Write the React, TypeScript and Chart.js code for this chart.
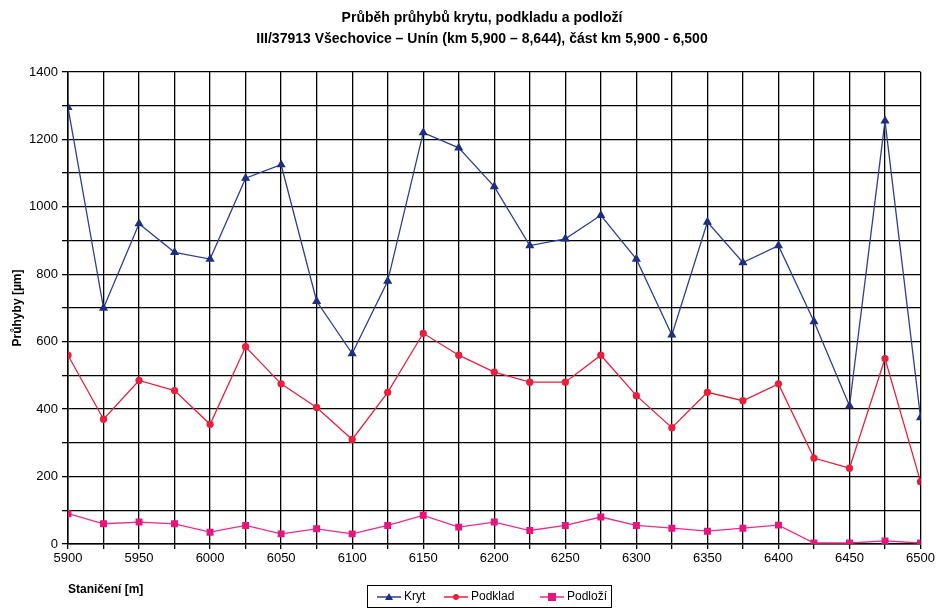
import React, { useEffect, useRef } from "react";
import { Chart, registerables } from "chart.js";

Chart.register(...registerables);

const stations = [5900, 5925, 5950, 5975, 6000, 6025, 6050, 6075, 6100, 6125, 6150, 6175, 6200, 6225, 6250, 6275, 6300, 6325, 6350, 6375, 6400, 6425, 6450, 6475, 6500];
const kryt = [1295, 700, 950, 865, 845, 1085, 1125, 720, 565, 780, 1220, 1175, 1060, 885, 905, 975, 845, 620, 955, 835, 885, 660, 410, 1255, 375];
const podklad = [560, 370, 485, 455, 355, 585, 475, 405, 310, 450, 625, 560, 510, 480, 480, 560, 440, 345, 450, 425, 475, 255, 225, 550, 185];
const podlozi = [90, 60, 65, 60, 35, 55, 30, 45, 30, 55, 85, 50, 65, 40, 55, 80, 55, 47, 38, 47, 56, 3, 3, 9, 3];

const seriesNames = ["Kryt", "Podklad", "Podloží"];
const titleLines = [
  "Průběh průhybů krytu, podkladu a podloží",
  "III/37913 Všechovice – Unín (km 5,900 – 8,644), část km 5,900 - 6,500",
];
const xTitle = "Staničení [m]";
const yTitle = "Průhyby [µm]";

const FONT = "'Liberation Sans', Arial, sans-serif";

const toPts = (vals: number[]) => vals.map((v, i) => ({ x: stations[i], y: v }));

const decorPlugin = {
  id: "decor",
  afterDraw(chart: any) {
    const ctx = chart.ctx;
    ctx.save();
    ctx.fillStyle = "#000";
    ctx.textAlign = "center";
    ctx.textBaseline = "middle";
    ctx.font = `bold 14px ${FONT}`;
    ctx.fillText(titleLines[0], 482, 18);
    ctx.fillText(titleLines[1], 482, 39);
    ctx.textAlign = "left";
    ctx.font = `bold 12px ${FONT}`;
    ctx.fillText(xTitle, 68, 590);

    // legend
    const bx = 367, by = 585, bw = 244, bh = 22;
    ctx.strokeStyle = "#000";
    ctx.lineWidth = 1;
    ctx.strokeRect(bx + 0.5, by + 0.5, bw, bh);
    const cy = by + bh / 2 + 1;
    const items = chart.data.datasets;
    const starts = [377, 444, 540];
    ctx.font = `12px ${FONT}`;
    items.forEach((ds: any, i: number) => {
      const x0 = starts[i];
      ctx.strokeStyle = ds.borderColor;
      ctx.lineWidth = 1.5;
      ctx.beginPath();
      ctx.moveTo(x0, cy);
      ctx.lineTo(x0 + 24, cy);
      ctx.stroke();
      ctx.fillStyle = ds.pointBackgroundColor;
      const mx = x0 + 12;
      if (ds.pointStyle === "triangle") {
        ctx.beginPath();
        ctx.moveTo(mx, cy - 4);
        ctx.lineTo(mx + 4, cy + 3);
        ctx.lineTo(mx - 4, cy + 3);
        ctx.closePath();
        ctx.fill();
      } else if (ds.pointStyle === "rect") {
        ctx.fillRect(mx - 4, cy - 4, 8, 8);
      } else {
        ctx.beginPath();
        ctx.arc(mx, cy, 3, 0, Math.PI * 2);
        ctx.fill();
      }
      ctx.fillStyle = "#000";
      ctx.fillText(ds.label, x0 + 27, cy);
    });
    ctx.restore();
  },
};

export default function App() {
  const ref = useRef<HTMLCanvasElement | null>(null);
  useEffect(() => {
    if (!ref.current) return;
    const chart = new Chart(ref.current, {
      type: "line",
      data: {
        datasets: [
          {
            label: seriesNames[0],
            data: toPts(kryt),
            borderColor: "#2b3f94",
            backgroundColor: "#1e2f80",
            pointBackgroundColor: "#1e2f80",
            pointBorderColor: "#1e2f80",
            pointStyle: "triangle",
            pointRadius: 4,
            borderWidth: 1.3,
          },
          {
            label: seriesNames[1],
            data: toPts(podklad),
            borderColor: "#e8203c",
            backgroundColor: "#e8203c",
            pointBackgroundColor: "#e8203c",
            pointBorderColor: "#e8203c",
            pointStyle: "circle",
            pointRadius: 3,
            borderWidth: 1.3,
          },
          {
            label: seriesNames[2],
            data: toPts(podlozi),
            borderColor: "#ec2a8c",
            backgroundColor: "#e8157f",
            pointBackgroundColor: "#e8157f",
            pointBorderColor: "#e8157f",
            pointStyle: "rect",
            pointRadius: 4,
            borderWidth: 1.3,
          },
        ],
      },
      options: {
        animation: false,
        responsive: false,
        maintainAspectRatio: false,
        layout: { padding: { top: 72, right: 15, left: 0, bottom: 0 } },
        plugins: { legend: { display: false }, tooltip: { enabled: false }, title: { display: false } },
        scales: {
          x: {
            type: "linear",
            min: 5900,
            max: 6500,
            afterFit: (s: any) => { s.height = 65; },
            ticks: {
              stepSize: 25,
              autoSkip: false,
              maxRotation: 0,
              color: "#000",
              padding: 2,
              font: { family: FONT, size: 13 },
              callback: (v: any) => (Number(v) % 50 === 0 ? String(v) : ""),
            },
            grid: { color: "#000", lineWidth: 1.3, drawTicks: true, tickLength: 5 },
            border: { color: "#000", width: 1.5 },
          },
          y: {
            min: 0,
            max: 1400,
            afterFit: (s: any) => { s.width = 68; },
            ticks: {
              stepSize: 100,
              autoSkip: false,
              color: "#000",
              padding: 4,
              font: { family: FONT, size: 13 },
              callback: (v: any) => (Number(v) % 200 === 0 ? String(v) : ""),
            },
            grid: { color: "#000", lineWidth: 1.3, tickLength: 6 },
            border: { color: "#000", width: 1.5 },
            title: { display: true, text: yTitle, color: "#000", font: { family: FONT, size: 12, weight: "bold" }, padding: { top: 10, bottom: 0 } },
          },
        },
      },
      plugins: [decorPlugin],
    } as any);
    return () => chart.destroy();
  }, []);
  return (
    <div style={{ position: "absolute", left: 0, top: 0, width: 937, height: 609, background: "#fff" }}>
      <canvas ref={ref} width={937} height={609} />
    </div>
  );
}
